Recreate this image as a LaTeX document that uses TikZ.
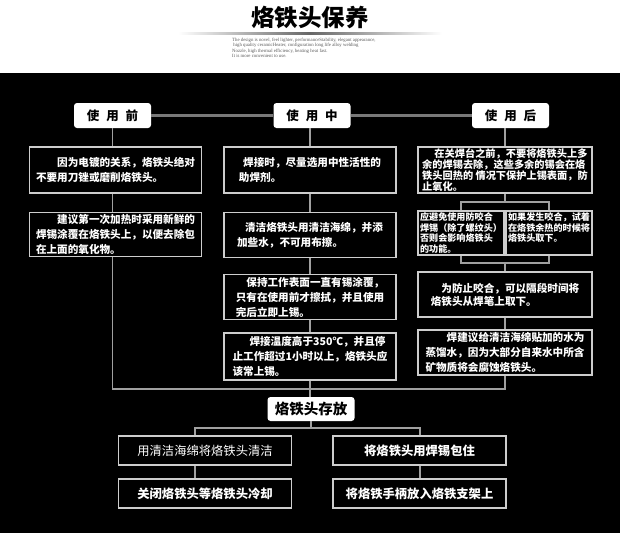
\documentclass[tikz,border=0pt]{standalone}
\usepackage{fontspec}
\setmainfont{Noto Sans CJK SC}
\newfontfamily\latinserif{Liberation Serif}
\usetikzlibrary{positioning,calc}

\definecolor{wire}{RGB}{160,160,160}
\definecolor{frame}{RGB}{205,205,205}
\definecolor{barcol}{RGB}{120,120,120}

\begin{document}
\begin{tikzpicture}[
  x=1pt, y=-1pt,
  head/.style={fill=white, rounded corners=3pt, minimum width=77pt, minimum height=25pt,
               inner sep=0pt, font=\fontsize{12.5}{14}\selectfont\bfseries},
  card/.style={draw=frame, line width=1.3pt, minimum width=172pt, minimum height=45pt,
               inner sep=0pt, align=left, text=white, font=\fontsize{10.6}{15}\selectfont\bfseries},
  half/.style={card, minimum width=86pt, minimum height=44pt, font=\fontsize{9.1}{10.6}\selectfont\bfseries},
  store/.style={card, minimum width=173pt, minimum height=29pt, font=\fontsize{12.3}{14}\selectfont\bfseries},
  link/.style={draw=wire, line width=1.5pt},
  bar/.style={draw=barcol, line width=3.5pt}
]
\useasboundingbox (0,0) rectangle (620,533);
\fill[black] (0,73) rectangle (620,533);

% title
\node[font=\fontsize{23.5}{24}\selectfont\bfseries] (title) at (310,18) {烙铁头保养};
\shade[left color=white, right color=white, middle color=gray!80!black] (178,32) rectangle (442,34.5);
\node[anchor=north west, align=left, inner sep=0pt, text=gray!70!black,
      font=\latinserif\fontsize{4.8}{5.5}\selectfont] (blurb) at (232,37.5)
  {The design is novel, feel lighter, performanceStability, elegant appearance,\\
   \ high quality ceramicHeater, configuration long life alloy welding\\
   Nozzle, high thermal efficiency, heating heat fast.\\
   It is more convenient to use.};

% stage heads
\node[head] (h0) at (112.5,115.5) {使\hspace{.55em}用\hspace{.55em}前};
\node[head] (h1) at (312,115.5) {使\hspace{.55em}用\hspace{.55em}中};
\node[head] (h2) at (510.5,115.5) {使\hspace{.55em}用\hspace{.55em}后};
\draw[bar] (h0) -- (h1);
\draw[bar] (h1) -- (h2);

% before
\node[card, minimum height=46pt] (a1) at (115.5,170) {\hspace*{2em}因为电镀的关系，烙铁头绝对\\不要用刀锉或磨削烙铁头。};
\node[card, minimum height=44pt, below=18pt of a1] (a2) {\hspace*{2em}建议第一次加热时采用新鲜的\\焊锡涂覆在烙铁头上，以便去除包\\在上面的氧化物。};

% during
\node[card, minimum height=46pt] (b1) at (310,170) {\hspace*{.4em}焊接时，尽量选用中性活性的\\助焊剂。};
\node[card, below=18pt of b1] (b2) {\hspace*{.75em}清洁烙铁头用清洁海绵，并添\\加些水，不可用布擦。};
\node[card, below=16pt of b2] (b3) {\hspace*{1em}保持工作表面一直有锡涂覆，\\只有在使用前才擦拭，并且使用\\完后立即上锡。};
\node[card, minimum height=47pt, below=12pt of b3] (b4) {\hspace*{1.6em}焊接温度高于350℃，并且停\\止工作超过1小时以上，烙铁头应\\该常上锡。};

% after
\node[card, minimum width=174pt, minimum height=46pt, font=\fontsize{10.2}{11.2}\selectfont\bfseries] (c1) at (505,170)
  {\hspace*{1.2em}在关焊台之前，不要将烙铁头上多\\余的焊锡去除，这些多余的锡会在烙\\铁头回热的 情况下保护上锡表面，防\\止氧化。};
\node[half] (c2) at (461,233) {应避免使用防咬合\\焊锡（除了螺纹头）\\否则会影响烙铁头\\的功能。};
\node[half] (c3) at (549,233) {如果发生咬合，试着\\在烙铁余热的时候将\\烙铁头取下。\\\phantom{烙}};
\node[card, minimum width=174pt, font=\fontsize{10.6}{13}\selectfont\bfseries] (c4) at (505,294.5) {\hspace*{1em}为防止咬合，可以隔段时间将\\烙铁头从焊笔上取下。};
\node[card, minimum width=174pt] (c5) at (505,352.5) {\hspace*{2em}焊建议给清洁海绵贴加的水为\\蒸馏水，因为大部分自来水中所含\\矿物质将会腐蚀烙铁头。};

% storage
\node[head, minimum width=87pt, minimum height=24pt, font=\fontsize{14.5}{16}\selectfont\bfseries] (st) at (311,409) {烙铁头存放};
\node[store, font=\fontsize{12.3}{14}\selectfont] (s1) at (205,450.5) {用清洁海绵将烙铁头清洁};
\node[store] (s2) at (419.5,450.5) {将烙铁头用焊锡包住};
\node[store] (s3) at (205,493.5) {关闭烙铁头等烙铁头冷却};
\node[store] (s4) at (419.5,493.5) {将烙铁手柄放入烙铁支架上};

\coordinate (jl) at (112.5,389);
\coordinate (jr) at (505,389);
\coordinate (ra) at (505,202);
\coordinate (rb) at (505,263);
\coordinate (sl) at (195,428);
\coordinate (sr) at (420,428);

\draw[link] (h0) -- (h0 |- a1.north);
\draw[link] (h0 |- a1.south) -- (h0 |- a2.north);
\draw[link] (h0 |- a2.south) -- (jl) -- (jr) -- (c5.south -| jr);

\draw[link] (b1.north |- h1.south) -- (b1);
\draw[link] (b1) -- (b2);
\draw[link] (b2) -- (b3);
\draw[link] (b3) -- (b4);
\draw[link] (b4.south) -- (b4.south |- st.north);

\draw[link] (c1.north |- h2.south) -- (c1);
\draw[link] (c1) -- (ra);
\draw[link] (c2) -- (c2 |- ra) -- (c3 |- ra) -- (c3);
\draw[link] (c2) -- (c2 |- rb) -- (c3 |- rb) -- (c3);
\draw[link] (rb) -- (c4);
\draw[link] (c4) -- (c5);

\draw[link] (st) -- (st |- sl);
\draw[link] (s1.north -| sl) -- (sl) -- (sr) -- (s2.north -| sr);
\draw[link] (s1.south -| sl) -- (s3.north -| sl);
\draw[link] (s2.south -| sr) -- (s4.north -| sr);
\end{tikzpicture}
\end{document}
